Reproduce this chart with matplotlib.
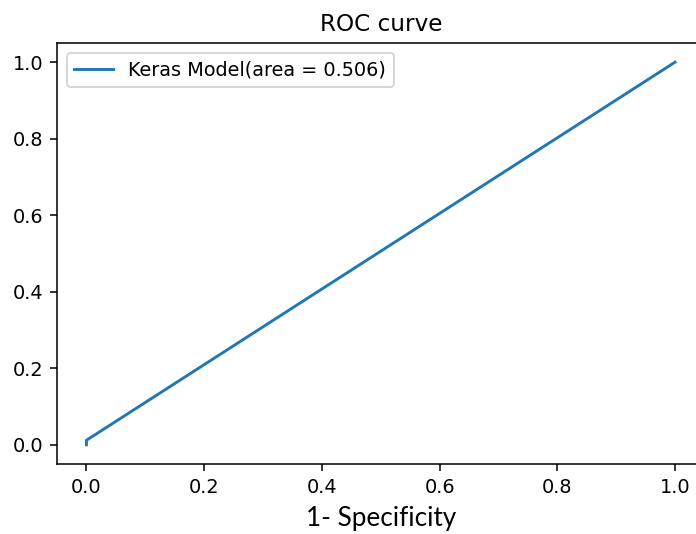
import matplotlib
matplotlib.use("Agg")
import matplotlib.pyplot as plt

# --------------------------------------------------
# DATA
# --------------------------------------------------
fpr = [0.0, 0.0, 1.0]
tpr = [0.0, 0.012, 1.0]
roc_auc = 0.506
model_name = "Keras Model"

# --------------------------------------------------
# PLOT
# --------------------------------------------------
DPI = 139
fig = plt.figure(figsize=(696 / DPI, 534 / DPI), dpi=DPI)
ax = fig.add_axes([57 / 696, 70 / 534, 647.5 / 696, 421 / 534])

ax.plot(fpr, tpr, label=f"{model_name}(area = {roc_auc:.3f})")
ax.set_title("ROC curve")
ax.set_xlabel("1- Specificity", family=["Lato", "DejaVu Sans"], fontsize=13.5)
ax.xaxis.set_label_coords(0.5, -0.1)
ax.legend(loc="upper left")

fig.savefig("out.png", dpi=DPI)
